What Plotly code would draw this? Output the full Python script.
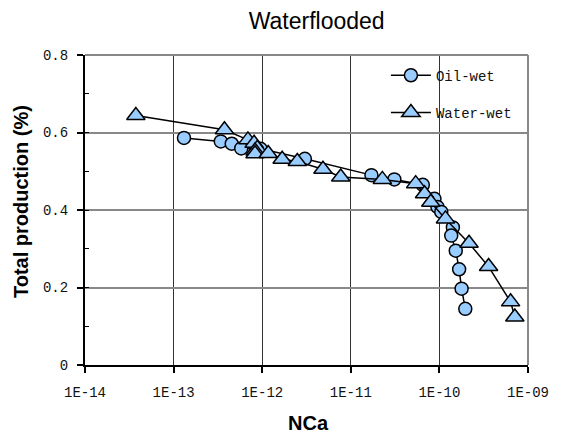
import plotly.graph_objects as go

# Capillary number (NCa) vs. total production for the two wettability cases
nca_oil = [1.31e-13, 3.41e-13, 4.53e-13, 5.8e-13, 9.6e-13, 3.03e-12, 1.71e-11,
           3.1e-11, 6.5e-11, 8.8e-11, 9.5e-11, 1.05e-10, 1.42e-10, 1.36e-10,
           1.53e-10, 1.67e-10, 1.78e-10, 1.96e-10]
prod_oil = [0.586, 0.577, 0.571, 0.559, 0.558, 0.532, 0.490, 0.479, 0.465,
            0.429, 0.408, 0.395, 0.355, 0.334, 0.295, 0.247, 0.197, 0.145]

nca_water = [3.75e-14, 3.75e-13, 6.9e-13, 8.1e-13, 8.8e-13, 8.3e-13, 8.3e-13,
             1.17e-12, 1.68e-12, 2.49e-12, 4.85e-12, 7.7e-12, 2.27e-11, 5.4e-11,
             6.8e-11, 8.0e-11, 1.17e-10, 2.16e-10, 3.59e-10, 6.36e-10, 7.1e-10]
prod_water = [0.644, 0.607, 0.581, 0.572, 0.559, 0.552, 0.545, 0.546, 0.531,
              0.525, 0.505, 0.485, 0.479, 0.468, 0.442, 0.420, 0.377, 0.314,
              0.254, 0.163, 0.124]

x_tick_vals = [1e-14, 1e-13, 1e-12, 1e-11, 1e-10, 1e-9]
x_tick_text = ["1E-14", "1E-13", "1E-12", "1E-11", "1E-10", "1E-09"]
y_tick_vals = [0, 0.2, 0.4, 0.6, 0.8]
y_tick_text = ["0", "0.2", "0.4", "0.6", "0.8"]

FILL = "#99CCFF"
MONO = "Liberation Mono, Courier New, monospace"
SANS = "Liberation Sans, Arial, sans-serif"

fig = go.Figure()
fig.add_trace(go.Scatter(
    x=nca_oil, y=prod_oil, name="Oil-wet", mode="lines+markers",
    legendgroup="oil",
    line=dict(color="black", width=1.5),
    marker=dict(symbol="circle", size=13, color=FILL,
                line=dict(color="black", width=1.5)),
))
fig.add_trace(go.Scatter(
    x=nca_water, y=prod_water, name="Water-wet", mode="lines+markers",
    legendgroup="water",
    line=dict(color="black", width=1.5),
    marker=dict(symbol="triangle-up", size=16, color=FILL,
                line=dict(color="black", width=1.5)),
))

fig.update_layout(
    width=561, height=436,
    margin=dict(l=85, r=26, t=55, b=71),
    paper_bgcolor="white", plot_bgcolor="white",
    font=dict(family=SANS, color="black"),
    title=dict(text="Waterflooded", font=dict(family=SANS, size=23, color="black"),
               x=316.7 / 561, xanchor="center", y=1 - 21 / 436, yanchor="middle"),
    showlegend=True,
    legend=dict(x=0.975, xanchor="right", y=0.985, yanchor="top",
                bgcolor="rgba(255,255,255,0)", borderwidth=0, tracegroupgap=16,
                font=dict(family=MONO, size=14, color="#111111"),
                itemwidth=40),
    xaxis=dict(type="log", range=[-14, -9],
               tickvals=x_tick_vals, ticktext=x_tick_text,
               tickfont=dict(family=MONO, size=14, color="#111111"),
               ticks="outside", ticklen=6, tickwidth=1.5, tickcolor="black",
               ticklabelstandoff=7,
               showline=True, linecolor="black", linewidth=2,
               showgrid=True, gridcolor="#333333", gridwidth=1,
               zeroline=False),
    yaxis=dict(range=[0, 0.8],
               tickvals=y_tick_vals, ticktext=y_tick_text,
               tickfont=dict(family=MONO, size=14, color="#111111"),
               ticks="outside", ticklen=6, tickwidth=1.5, tickcolor="black",
               ticklabelstandoff=6,
               minor=dict(dtick=0.1, ticks="inside", ticklen=4,
                          tickcolor="black", tickwidth=1, showgrid=False),
               showline=True, linecolor="black", linewidth=2,
               showgrid=True, gridcolor="#888888", gridwidth=2,
               zeroline=False),
    annotations=[
        dict(text="<b>NCa</b>", xref="paper", yref="paper",
             x=(311.7 - 85) / 450, y=(365 - 423) / 310,
             xanchor="center", yanchor="middle", showarrow=False,
             font=dict(family=SANS, size=20, color="black")),
        dict(text="<b>Total production (%)</b>", xref="paper", yref="paper",
             x=(20 - 85) / 450, y=(365 - 202) / 310, textangle=-90,
             xanchor="center", yanchor="middle", showarrow=False,
             font=dict(family=SANS, size=20, color="black")),
    ],
    shapes=[
        # white backing behind the legend entries
        dict(type="rect", xref="paper", yref="paper",
             x0=0.611, x1=0.995, y0=0.758, y1=0.984,
             fillcolor="white", line=dict(width=0), layer="between"),
        # grey top and right frame
        dict(type="line", xref="paper", yref="paper", x0=0, x1=1, y0=1, y1=1,
             line=dict(color="#888888", width=2), layer="above"),
        dict(type="line", xref="paper", yref="paper", x0=1, x1=1, y0=0, y1=1,
             line=dict(color="#888888", width=2), layer="above"),
    ],
)

fig.write_html("out.html")
